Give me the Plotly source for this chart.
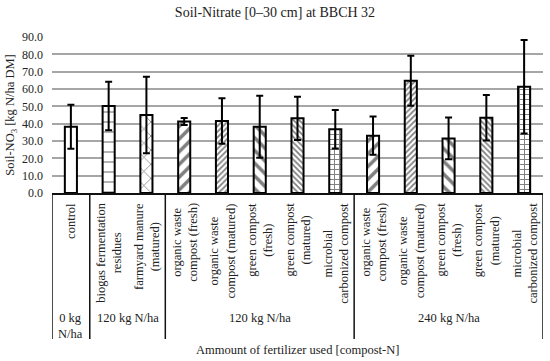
import plotly.graph_objects as go

# ---- data ----
categories = [
    "control",
    "biogas fermentation<br>residues",
    "farmyard manure<br>(matured)",
    "organic waste<br>compost (fresh)",
    "organic waste<br>compost (matured)",
    "green compost<br>(fresh)",
    "green compost<br>(matured)",
    "microbial<br>carbonized compost",
    "organic waste<br>compost (fresh)",
    "organic waste<br>compost (matured)",
    "green compost<br>(fresh)",
    "green compost<br>(matured)",
    "microbial<br>carbonized compost",
]
values = [38.2, 50.2, 45.0, 41.2, 41.5, 38.2, 43.1, 36.8, 33.1, 64.8, 31.5, 43.4, 61.3]
errors = [12.7, 14.0, 22.0, 2.0, 13.1, 17.9, 12.5, 11.1, 11.0, 14.4, 12.0, 13.1, 27.0]
patterns = ["", "-", "x", "/", "/", "\\", "\\", "+", "/", "/", "\\", "\\", "+"]
pattern_sizes = [8, 10, 10, 9, 4, 9, 4, 5, 9, 4, 9, 4, 5]
pattern_solidity = [0.3, 0.12, 0.15, 0.4, 0.45, 0.4, 0.45, 0.35, 0.4, 0.45, 0.4, 0.45, 0.35]

group_labels = ["0 kg<br>N/ha", "120 kg N/ha", "120 kg N/ha", "240 kg N/ha"]
group_bounds = [(-0.5, 0.5), (0.5, 2.5), (2.5, 7.5), (7.5, 12.5)]

yticks = [0, 10, 20, 30, 40, 50, 60, 70, 80, 90]

title_text = "Soil-Nitrate [0–30 cm] at BBCH 32"
ytitle = "Soil-NO<sub>3</sub> [kg N/ha DM]"
xtitle = "Ammount of fertilizer used [compost-N]"

# ---- layout geometry ----
W, H = 550, 361
M_L, M_R, M_T, M_B = 52, 7, 37, 168
PH = H - M_T - M_B  # plot height in px


def py2paper(py):
    return (H - M_B - py) / PH


FONT = "Liberation Serif, Times New Roman, serif"
TXT = "#222222"

x = list(range(len(categories)))

fig = go.Figure()
fig.add_trace(go.Bar(
    x=x,
    y=values,
    width=0.32,
    marker=dict(
        color="white",
        line=dict(color="black", width=2),
        pattern=dict(shape=patterns, size=pattern_sizes, solidity=pattern_solidity,
                     fgcolor="black", bgcolor="white", fillmode="overlay"),
    ),
    error_y=dict(type="data", array=errors, visible=True, color="black",
                 thickness=2, width=3.5),
    showlegend=False,
    hoverinfo="skip",
))

shapes = []
for b in sorted(set([g[0] for g in group_bounds] + [g[1] for g in group_bounds])):
    shapes.append(dict(type="line", xref="x", yref="paper", x0=b, x1=b,
                       y0=0, y1=py2paper(339), line=dict(color="#111111", width=1.5)))

annotations = []
for i, c in enumerate(categories):
    annotations.append(dict(x=i, y=py2paper(201), xref="x", yref="paper", text=c,
                            textangle=-90, showarrow=False, xanchor="center", yanchor="top",
                            align="center", font=dict(family=FONT, size=12.5, color=TXT)))
for lbl, (a, b) in zip(group_labels, group_bounds):
    annotations.append(dict(x=(a + b) / 2, y=py2paper(309), xref="x", yref="paper", text=lbl,
                            showarrow=False, xanchor="center", yanchor="top", align="center",
                            font=dict(family=FONT, size=12.5, color=TXT)))
annotations.append(dict(x=0.5, y=py2paper(350), xref="paper", yref="paper", text=xtitle,
                        showarrow=False, xanchor="center", yanchor="middle",
                        font=dict(family=FONT, size=12.5, color=TXT)))

fig.update_layout(
    width=W, height=H,
    margin=dict(l=M_L, r=M_R, t=M_T, b=M_B),
    paper_bgcolor="white", plot_bgcolor="white",
    title=dict(text=title_text, x=0.5, xanchor="center", y=1 - 12 / H, yanchor="middle",
               yref="container", font=dict(family=FONT, size=14, color=TXT)),
    xaxis=dict(range=[-0.5, 12.5], showticklabels=False, showgrid=False, zeroline=False,
               showline=True, linecolor="#111111", linewidth=1.5, ticks=""),
    yaxis=dict(range=[0, 90], tickvals=yticks, ticktext=[f"{v:.1f}" for v in yticks],
               showgrid=True, gridcolor="#a6a6a6", gridwidth=1.5, zeroline=False,
               showline=False, ticks="", ticklabelstandoff=8,
               tickfont=dict(family=FONT, size=12, color=TXT),
               title=dict(text=ytitle, font=dict(family=FONT, size=12.5, color=TXT), standoff=4)),
    shapes=shapes,
    annotations=annotations,
    bargap=0.68,
    hovermode=False,
)

fig.write_html("out.html", config={"displayModeBar": False},
               post_script="document.body.style.margin='0';document.body.style.padding='0';")
